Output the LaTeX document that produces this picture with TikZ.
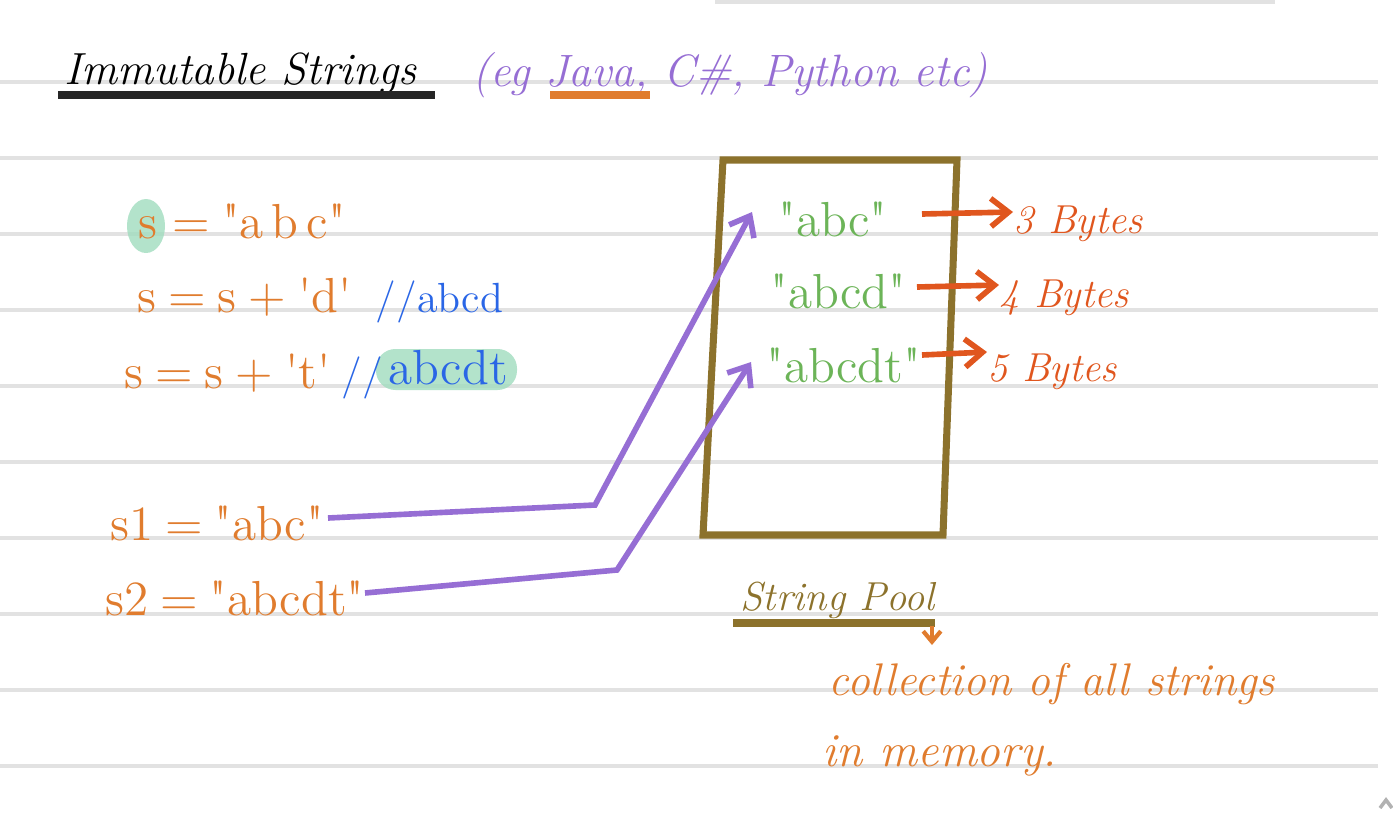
\documentclass[tikz,border=0pt]{standalone}
\usetikzlibrary{arrows.meta,backgrounds}
\definecolor{inkorange}{RGB}{224,124,46}
\definecolor{inkpurple}{RGB}{150,110,212}
\definecolor{inkblue}{RGB}{42,102,230}
\definecolor{inkgreen}{RGB}{108,180,88}
\definecolor{inkred}{RGB}{224,86,30}
\definecolor{inkolive}{RGB}{140,114,44}
\definecolor{hlgreen}{RGB}{160,220,190}
\definecolor{rule}{RGB}{226,226,226}
\newcommand{\dq}{\textquotedbl}
\newcommand{\sq}{\textquotesingle}
\newcommand{\tightsp}{\spaceskip=0.24em\relax}
\tikzset{
  txt/.style={inner sep=0pt, anchor=base west},
  big/.style={font={\fontsize{14}{17}\selectfont\tightsp}},
  cmt/.style={font=\fontsize{12}{15}\selectfont},
  mid/.style={font=\fontsize{11.5}{14}\selectfont\itshape},
  ptr/.style={draw=inkpurple, line width=1.6pt, -{Straight Barb[length=5pt,width=8pt]}},
  sz/.style={draw=inkred, line width=1.6pt, -{Straight Barb[length=5pt,width=8pt]}},
}
\begin{document}
\begin{tikzpicture}[x=0.01cm,y=-0.01cm]
\useasboundingbox (0,0) rectangle (1393,833);
% ruled lines
\foreach \yy in {82,158,234,310,386,462,538,614,690,766}
  \draw[rule, line width=1.2pt] (0,\yy) -- (1378,\yy);
\draw[rule, line width=1.5pt] (715,1) -- (1275,1);
% title
\node[txt, font=\fontsize{12.8}{15}\selectfont\itshape] (title) at (64,84) {Immutable Strings};
\draw[black!85, line width=2.2pt] (58,95) -- (435,95);
\node[txt, font=\fontsize{12.9}{15}\selectfont\itshape, text=inkpurple] (langs) at (472,86) {(eg Java, C\#, Python etc)};
\draw[inkorange, line width=2.2pt] (550,95) -- (650,95);
% highlights
\fill[hlgreen, opacity=0.8] (146,226) ellipse (19 and 27);
\fill[hlgreen, opacity=0.8, rounded corners=5.5pt] (376,349) rectangle (517,390);
% code lines
\node[txt, big, text=inkorange] (s0) at (138,238) {s};
\node[txt, big, text=inkorange] (l1) at (172,238) {= \dq a\,b\,c\dq};
\node[txt, big, text=inkorange] (l2) at (137,312) {s = s + \sq d\sq};
\node[txt, cmt, text=inkblue] (c2) at (375,312) {//abcd};
\node[txt, big, text=inkorange] (l3) at (124,388) {s = s + \sq t\sq};
\node[txt, cmt, text=inkblue] (c3) at (341,388) {//};
\node[txt, big, text=inkblue] (c3b) at (388,384) {abcdt};
\node[txt, big, text=inkorange] (s1) at (110,540) {s1 = \dq abc\dq};
\node[txt, big, text=inkorange] (s2) at (105,615) {s2 = \dq abcdt\dq};
% string pool box
\draw[inkolive, line width=2pt] (723,160) -- (957,160) -- (943,535) -- (703,535) -- cycle;
\node[txt, big, text=inkgreen] (pabc) at (778,236) {\dq abc\dq};
\node[txt, big, text=inkgreen] (pabcd) at (770,308) {\dq abcd\dq};
\node[txt, big, text=inkgreen] (pabcdt) at (766,382) {\dq abcdt\dq};
% sizes
\node[txt, mid, text=inkred] (b3) at (1013,233) {3 Bytes};
\node[txt, mid, text=inkred] (b4) at (999,307) {4 Bytes};
\node[txt, mid, text=inkred] (b5) at (987,381) {5 Bytes};
\coordinate (a1) at (922,214);
\coordinate (a2) at (917,287);
\coordinate (a3) at (922,355);
\draw[sz] (a1) -- (b3.west |- 0,212);
\draw[sz] (a2) -- (b4.west |- 0,285);
\draw[sz] (a3) -- (b5.west |- 0,352);
% pointers
\coordinate (t1) at (328,518);
\coordinate (t2) at (365,593);
\coordinate (k1) at (595,505);
\coordinate (k2) at (617,570);
\coordinate (h1) at (752,212);
\coordinate (h2) at (751,362);
\draw[ptr] (t1) -- (k1) -- (h1);
\draw[ptr] (t2) -- (k2) -- (h2);
% string pool label
\node[txt, font=\fontsize{11.5}{14}\selectfont\itshape, text=inkolive] (pool) at (740,610) {String Pool};
\draw[inkolive, line width=2.2pt] (733,623) -- (935,623);
\draw[inkorange, line width=1.2pt, -{Straight Barb[length=3pt,width=5pt]}] (932,626) -- (932,645);
\node[txt, font=\fontsize{13}{16}\selectfont\itshape, text=inkorange] (desc1) at (828,695) {collection of all strings};
\node[txt, font=\fontsize{13.5}{16}\selectfont\itshape, text=inkorange] (desc2) at (822,766) {in memory.};
% scroll chevron
\draw[gray!60, line width=1pt] (1380,808) -- (1386,800) -- (1392,808);
\end{tikzpicture}
\end{document}
